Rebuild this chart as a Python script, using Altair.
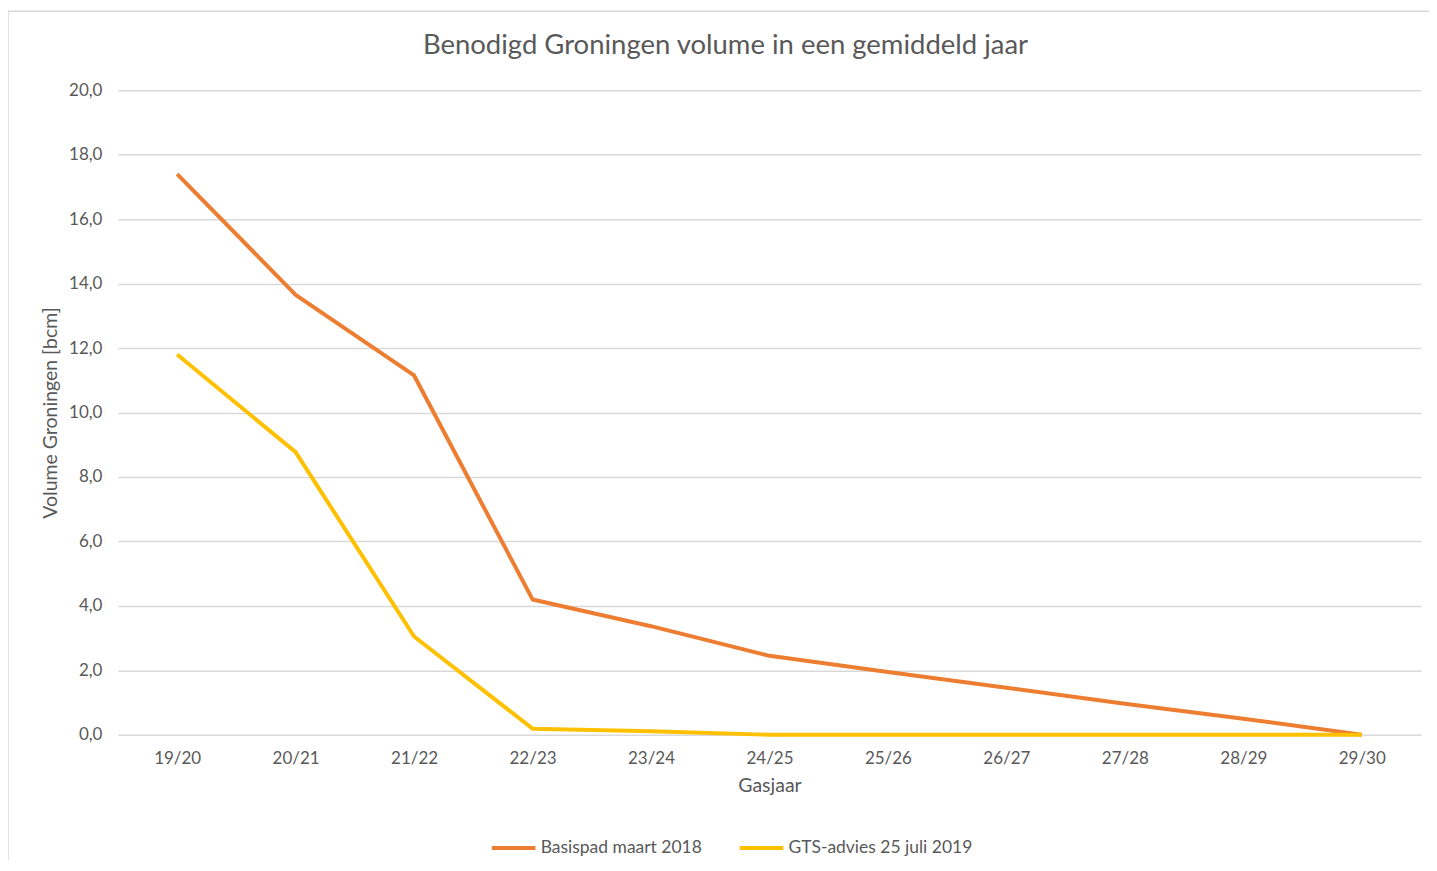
import altair as alt
import pandas as pd

years = ["19/20", "20/21", "21/22", "22/23", "23/24", "24/25", "25/26", "26/27", "27/28", "28/29", "29/30"]
basispad = [17.4, 13.65, 11.15, 4.2, 3.37, 2.45, 1.95, 1.46, 0.96, 0.5, 0.0]
gts = [11.8, 8.77, 3.05, 0.19, 0.11, 0.0, 0.0, 0.0, 0.0, 0.0, 0.0]
series_names = ["Basispad maart 2018", "GTS-advies 25 juli 2019"]
colors = ["#ED7D31", "#FFC000"]
y_ticks = [0, 2, 4, 6, 8, 10, 12, 14, 16, 18, 20]
title_text = "Benodigd Groningen volume in een gemiddeld jaar"

rows = []
for i, y in enumerate(years):
    rows.append({"Gasjaar": y, "serie": series_names[0], "waarde": basispad[i], "order": i})
    rows.append({"Gasjaar": y, "serie": series_names[1], "waarde": gts[i], "order": i})
df = pd.DataFrame(rows)

FONT = "Lato"
GREY = "#595959"
W, H = 1304, 645

deco = pd.DataFrame({"t": [title_text]})

border = alt.Chart(deco).mark_rect(
    fill=None, stroke="#d9d9d9", strokeWidth=1.5, clip=False
).encode(
    x=alt.value(-110), x2=alt.value(W + 40), y=alt.value(-79), y2=alt.value(H + 160)
)

title = alt.Chart(deco).mark_text(
    font=FONT, fontSize=27.5, color=GREY, align="center", baseline="middle", clip=False
).encode(
    x=alt.value(608), y=alt.value(-44), text="t:N"
)

lines = alt.Chart(df).mark_line(strokeWidth=4, strokeJoin="round").encode(
    x=alt.X("Gasjaar:O", sort=years, title="Gasjaar",
            scale=alt.Scale(paddingOuter=0.5),
            axis=alt.Axis(labelAngle=0, ticks=False, domain=False, grid=False,
                          labelPadding=16, titlePadding=10, labelFontSize=17,
                          titleFontSize=19.5)),
    y=alt.Y("waarde:Q", title="Volume Groningen [bcm]",
            scale=alt.Scale(domain=[0, 20], nice=False),
            axis=alt.Axis(values=y_ticks, ticks=False, domain=False, grid=True,
                          gridColor="#d9d9d9", gridWidth=1.5,
                          labelExpr="replace(format(datum.value, '.1f'), '.', ',')",
                          labelPadding=16, titlePadding=8, labelFontSize=17,
                          titleFontSize=19.5)),
    color=alt.Color("serie:N", sort=series_names,
                    scale=alt.Scale(domain=series_names, range=colors),
                    legend=alt.Legend(title=None, orient="none", direction="horizontal",
                                      legendX=372, legendY=734,
                                      symbolType="stroke", symbolStrokeWidth=4,
                                      symbolSize=1900, labelFontSize=17.5,
                                      labelOffset=3, columnPadding=29, labelLimit=400,
                                      labelColor=GREY, labelFont=FONT)),
    order="order:Q",
)

chart = alt.layer(border, title, lines).properties(
    width=W, height=H,
    autosize=alt.AutoSizeParams(type="none"),
    padding={"left": 110, "top": 82, "right": 8, "bottom": 125},
).configure_view(stroke=None).configure_axis(
    labelFont=FONT, titleFont=FONT, labelColor=GREY, titleColor=GREY,
    titleFontWeight="normal"
)

chart.save("out.html", embed_options={"renderer": "svg", "actions": False})
